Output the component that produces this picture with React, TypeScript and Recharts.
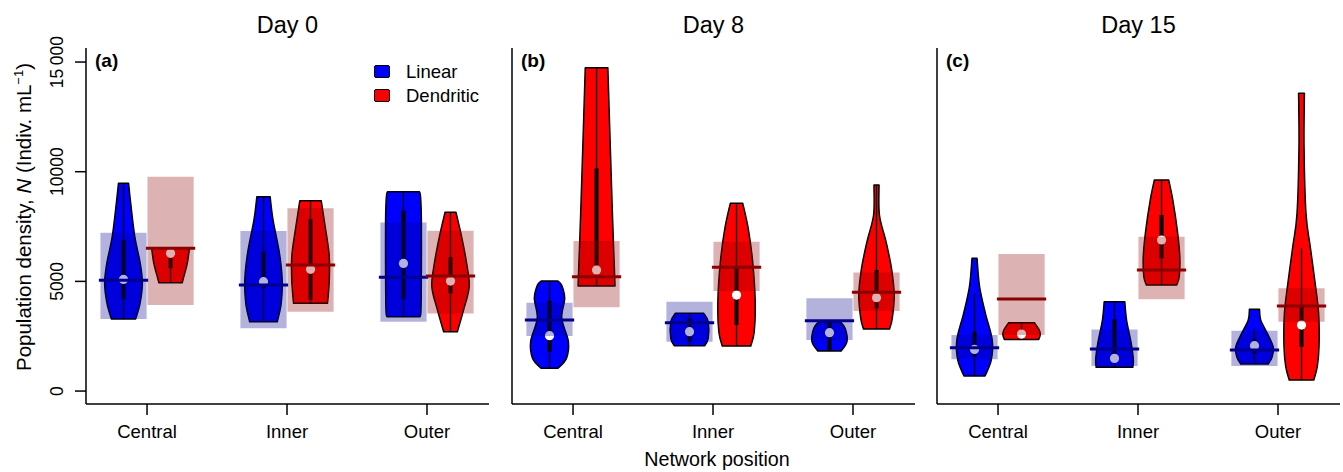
import React from 'react';
import { ComposedChart, Scatter, XAxis, YAxis } from 'recharts';

const positions = ['Central', 'Inner', 'Outer'];
const dayTitles = ['Day 0', 'Day 8', 'Day 15'];
const panelTags = ['(a)', '(b)', '(c)'];
const yTicks = [0, 5000, 10000, 15000];
const yTickLabels = ['0', '5000', '10000', '15\u2009000'];

// rows: Day 0, Day 8, Day 15 -- columns: Central, Inner, Outer
const linearMean = [[5050, 4834, 5183], [3238, 3116, 3207], [1976, 1915, 1870]];
const linearCiLow = [[3280, 2860, 3160], [2508, 2250, 2326], [1445, 1140, 1140]];
const linearCiHigh = [[7220, 7296, 7690], [4028, 4073, 4226], [2554, 2812, 2750]];
const linearMedian = [[5090, 4985, 5820], [2523, 2706, 2660], [1900, 1490, 2067]];
const linearQ1 = [[4180, 4680, 4180], [1790, 2250, 1850], [1565, 1450, 1700]];
const linearQ3 = [[6885, 6350, 8220], [4120, 3300, 3160], [2706, 3270, 2400]];
const linearWhiskLow = [[3280, 3160, 3390], [1035, 2067, 1824], [684, 1080, 1231]];
const linearWhiskHigh = [[9470, 8860, 9090], [5016, 3543, 3160], [4455, 4073, 2858]];

const dendriticMean = [[6505, 5745, 5244], [5213, 5640, 4500], [4195, 5518, 3876]];
const dendriticCiLow = [[3920, 3617, 3540], [3820, 4560, 3650], [2554, 4180, 3160]];
const dendriticCiHigh = [[9770, 8330, 7310], [6840, 6810, 5410], [6247, 7040, 4683]];
const dendriticMedian = [[6280, 5548, 5016], [5518, 4378, 4256], [2600, 6886, 3010]];
const dendriticQ1 = [[5600, 4150, 4455], [5745, 3010, 3770], [2550, 6050, 2020]];
const dendriticQ3 = [[6050, 7830, 6100], [10150, 5600, 5518], [2700, 8026, 3845]];
const dendriticWhiskLow = [[4940, 4000, 2700], [4790, 2052, 2827], [2356, 4834, 500]];
const dendriticWhiskHigh = [[6505, 8680, 8150], [14745, 8560, 9394], [3116, 9620, 6505]];

// violin outlines: [value, relative half-width], bottom to top
const linearShape = [
  [
    [[3280, 0.62], [4000, 0.85], [4910, 0.97], [5820, 0.86], [7040, 0.58], [8560, 0.37], [9470, 0.26]],
    [[3160, 0.71], [4000, 0.91], [5060, 0.96], [6280, 0.82], [7800, 0.49], [8860, 0.34]],
    [[3390, 0.85], [3700, 0.9], [5520, 0.92], [7800, 0.92], [8850, 0.88], [9090, 0.82]],
  ],
  [
    [[1035, 0.43], [1490, 0.87], [2250, 0.97], [3314, 0.63], [4226, 0.78], [4834, 0.62], [5016, 0.43]],
    [[2067, 0.78], [2400, 0.96], [3160, 0.96], [3543, 0.73]],
    [[1824, 0.6], [2250, 0.9], [2858, 0.81], [3160, 0.55]],
  ],
  [
    [[684, 0.54], [1414, 0.86], [2326, 0.91], [3543, 0.56], [4760, 0.26], [6050, 0.13]],
    [[1080, 0.94], [1414, 0.97], [2175, 0.86], [3238, 0.62], [4073, 0.53]],
    [[1231, 0.71], [1565, 0.91], [2020, 0.96], [2630, 0.66], [3238, 0.32], [3725, 0.26]],
  ],
];

const dendriticShape = [
  [
    [[4940, 0.6], [5213, 0.68], [5820, 0.86], [6505, 0.97]],
    [[4000, 0.87], [4455, 0.92], [5213, 0.97], [6280, 0.95], [7800, 0.7], [8680, 0.55]],
    [[2700, 0.35], [3690, 0.67], [4760, 0.96], [5820, 0.83], [7040, 0.57], [8150, 0.28]],
  ],
  [
    [[4790, 0.95], [7720, 0.83], [10760, 0.72], [14745, 0.58]],
    [[2052, 0.73], [2706, 0.91], [4073, 0.96], [5896, 0.83], [7418, 0.6], [8560, 0.32]],
    [[2827, 0.67], [3314, 0.81], [4378, 0.91], [5595, 0.77], [6810, 0.49], [8026, 0.15], [9394, 0.13]],
  ],
  [
    [[2356, 0.88], [2554, 0.96], [2782, 0.91], [3116, 0.66]],
    [[4834, 0.78], [5213, 0.91], [6125, 0.94], [7340, 0.81], [8710, 0.58], [9620, 0.37]],
    [[500, 0.63], [1110, 0.81], [2020, 0.9], [3543, 0.88], [5060, 0.68], [6580, 0.45], [8100, 0.23], [11140, 0.13], [13575, 0.15]],
  ],
];

const groups = [
  {
    key: 'lin', side: -1, fill: '#0000FF', dark: '#00008B',
    mean: linearMean, ciLow: linearCiLow, ciHigh: linearCiHigh, median: linearMedian,
    q1: linearQ1, q3: linearQ3, wLow: linearWhiskLow, wHigh: linearWhiskHigh, shape: linearShape,
  },
  {
    key: 'den', side: 1, fill: '#FF0000', dark: '#8B0000',
    mean: dendriticMean, ciLow: dendriticCiLow, ciHigh: dendriticCiHigh, median: dendriticMedian,
    q1: dendriticQ1, q3: dendriticQ3, wLow: dendriticWhiskLow, wHigh: dendriticWhiskHigh, shape: dendriticShape,
  },
];

const FONT = '"Liberation Sans", Arial, Helvetica, sans-serif';
const PLOT_W = 403;
const panelLeft = [86, 512, 937];
const xDomain = [0.564, 3.443];
const yDomain = [-590, 15640];
const OFFSET = 0.168;
const HALF = 0.139;
const BOX = 0.165;
const MEAN_HALF = 0.176;

const smooth = (pts: any[]) => {
  let d = '';
  for (let i = 0; i < pts.length - 1; i++) {
    const p0 = pts[Math.max(i - 1, 0)];
    const p1 = pts[i];
    const p2 = pts[i + 1];
    const p3 = pts[Math.min(i + 2, pts.length - 1)];
    const c1x = p1.x + (p2.x - p0.x) / 6;
    const c1y = p1.y + (p2.y - p0.y) / 6;
    const c2x = p2.x - (p3.x - p1.x) / 6;
    const c2y = p2.y - (p3.y - p1.y) / 6;
    d += ` C${c1x},${c1y} ${c2x},${c2y} ${p2.x},${p2.y}`;
  }
  return d;
};

const violinLine = (fill: string) => (props: any) => {
  const pts = props.points || [];
  if (pts.length < 4) return <g />;
  const n = pts.length / 2;
  const right = pts.slice(0, n);
  const left = pts.slice(n);
  const d = `M${right[0].x},${right[0].y}${smooth(right)} L${left[0].x},${left[0].y}${smooth(left)} Z`;
  return <path d={d} fill={fill} stroke="#000" strokeWidth={1.5} strokeLinejoin="round" />;
};

const boxLine = (fill: string) => (props: any) => {
  const pts = props.points || [];
  if (pts.length < 4) return <g />;
  const d = pts.map((p: any, i: number) => `${i ? 'L' : 'M'}${p.x},${p.y}`).join('') + 'Z';
  return <path d={d} fill={fill} fillOpacity={0.3} stroke="none" />;
};

const segLine = (stroke: string, width: number) => (props: any) => {
  const pts = props.points || [];
  if (pts.length < 2) return <g />;
  return (
    <path d={`M${pts[0].x},${pts[0].y}L${pts[1].x},${pts[1].y}`} stroke={stroke} strokeWidth={width} fill="none" />
  );
};

const noShape = () => <g />;
const medianDot = (props: any) => <circle cx={props.cx} cy={props.cy} r={4.6} fill="#ffffff" />;

const YTick = (props: any) => {
  const { x, y, payload } = props;
  const cx = x - 16;
  const idx = yTicks.indexOf(payload.value);
  return (
    <text x={cx} y={y} transform={`rotate(-90, ${cx}, ${y})`} textAnchor="middle" dominantBaseline="central"
      fontSize={17.5} fontFamily={FONT} fill="#000">
      {idx >= 0 ? yTickLabels[idx] : String(payload.value)}
    </text>
  );
};

function buildSeries(day: number) {
  const violins: React.ReactNode[] = [];
  const whiskers: React.ReactNode[] = [];
  const iqrs: React.ReactNode[] = [];
  const dots: React.ReactNode[] = [];
  const boxes: React.ReactNode[] = [];
  const means: React.ReactNode[] = [];
  groups.forEach((g) => {
    positions.forEach((_, p) => {
      const c = p + 1 + g.side * OFFSET;
      const prof = g.shape[day][p];
      const outline = [
        ...prof.map(([v, w]) => ({ x: c + w * HALF, y: v })),
        ...prof.slice().reverse().map(([v, w]) => ({ x: c - w * HALF, y: v })),
      ];
      const k = `${g.key}-${p}`;
      violins.push(
        <Scatter key={`v-${k}`} data={outline} dataKey="y" shape={noShape} line={violinLine(g.fill)} isAnimationActive={false} />
      );
      whiskers.push(
        <Scatter key={`w-${k}`} data={[{ x: c, y: g.wLow[day][p] }, { x: c, y: g.wHigh[day][p] }]} dataKey="y"
          shape={noShape} line={segLine('#000', 1.3)} isAnimationActive={false} />
      );
      iqrs.push(
        <Scatter key={`q-${k}`} data={[{ x: c, y: g.q1[day][p] }, { x: c, y: g.q3[day][p] }]} dataKey="y"
          shape={noShape} line={segLine('#000', 4)} isAnimationActive={false} />
      );
      dots.push(
        <Scatter key={`m-${k}`} data={[{ x: c, y: g.median[day][p] }]} dataKey="y" shape={medianDot} isAnimationActive={false} />
      );
      boxes.push(
        <Scatter key={`b-${k}`} dataKey="y" shape={noShape} line={boxLine(g.dark)} isAnimationActive={false}
          data={[
            { x: c - BOX, y: g.ciLow[day][p] },
            { x: c + BOX, y: g.ciLow[day][p] },
            { x: c + BOX, y: g.ciHigh[day][p] },
            { x: c - BOX, y: g.ciHigh[day][p] },
          ]} />
      );
      means.push(
        <Scatter key={`a-${k}`} data={[{ x: c - MEAN_HALF, y: g.mean[day][p] }, { x: c + MEAN_HALF, y: g.mean[day][p] }]}
          dataKey="y" shape={noShape} line={segLine(g.dark, 3)} isAnimationActive={false} />
      );
    });
  });
  return [...violins, ...whiskers, ...iqrs, ...dots, ...boxes, ...means];
}

function Panel({ day }: { day: number }) {
  const first = day === 0;
  const axisW = first ? 86 : 10;
  return (
    <div style={{ position: 'absolute', left: panelLeft[day] - axisW, top: 0 }}>
      <ComposedChart width={axisW + PLOT_W} height={472} margin={{ top: 48, right: 0, bottom: 8, left: 0 }}>
        <XAxis dataKey="x" type="number" domain={xDomain} allowDataOverflow ticks={[1, 2, 3]} interval={0}
          tickFormatter={(v: number) => positions[v - 1]} height={60} tickSize={11} tickMargin={10}
          axisLine={{ stroke: '#000', strokeWidth: 1.5 }} tickLine={{ stroke: '#000', strokeWidth: 1.5 }}
          tick={{ fill: '#000', fontSize: 18.5, fontFamily: FONT }} />
        <YAxis dataKey="y" type="number" domain={yDomain} allowDataOverflow ticks={yTicks} interval={0}
          width={axisW} tickSize={first ? 11 : 0}
          axisLine={{ stroke: '#000', strokeWidth: 1.5 }}
          tickLine={first ? { stroke: '#000', strokeWidth: 1.5 } : false}
          tick={first ? <YTick /> : false} />
        {buildSeries(day)}
      </ComposedChart>
    </div>
  );
}

const centered: React.CSSProperties = {
  position: 'absolute',
  transform: 'translate(-50%, -50%)',
  whiteSpace: 'nowrap',
  lineHeight: 1,
};

export default function App() {
  return (
    <div style={{ position: 'absolute', left: 0, top: 0, width: 1343, height: 472, background: '#fff', fontFamily: FONT, color: '#000' }}>
      {[0, 1, 2].map((d) => (
        <Panel key={d} day={d} />
      ))}
      {dayTitles.map((t, i) => (
        <div key={t} style={{ ...centered, left: panelLeft[i] + PLOT_W / 2, top: 26, fontSize: 23.5 }}>{t}</div>
      ))}
      {panelTags.map((t, i) => (
        <div key={t} style={{ position: 'absolute', left: panelLeft[i] + 9, top: 60, transform: 'translateY(-50%)', fontSize: 19, fontWeight: 'bold', lineHeight: 1 }}>{t}</div>
      ))}
      {[
        { label: 'Linear', fill: '#0000FF', y: 71.5 },
        { label: 'Dendritic', fill: '#FF0000', y: 95.5 },
      ].map((l) => (
        <React.Fragment key={l.label}>
          <div style={{ position: 'absolute', left: 374, top: l.y - 6.5, width: 16, height: 13, boxSizing: 'border-box', background: l.fill, border: '1.5px solid #000', borderRadius: 2 }} />
          <div style={{ position: 'absolute', left: 406, top: l.y, transform: 'translateY(-50%)', fontSize: 18.5, lineHeight: 1 }}>{l.label}</div>
        </React.Fragment>
      ))}
      <div style={{ ...centered, left: 24, top: 217, fontSize: 20.5, transform: 'translate(-50%, -50%) rotate(-90deg)' }}>
        Population density, <i>N</i> (Indiv. mL<sup style={{ fontSize: 13, lineHeight: 0, verticalAlign: 'super' }}>−1</sup>)
      </div>
      <div style={{ ...centered, left: 717, top: 460, fontSize: 19.7 }}>Network position</div>
    </div>
  );
}
